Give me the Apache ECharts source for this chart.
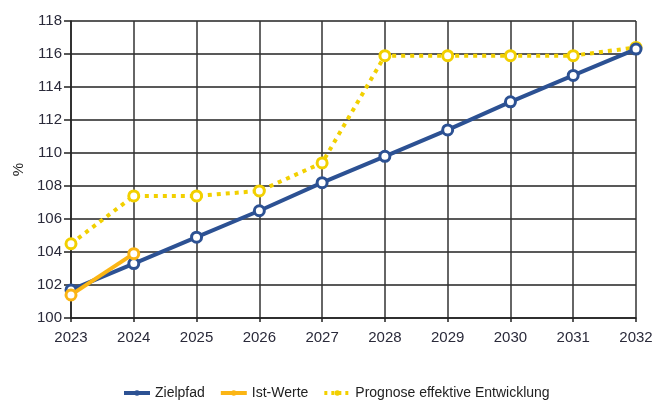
<!DOCTYPE html>
<html>
<head>
<meta charset="utf-8">
<script src="https://cdn.jsdelivr.net/npm/echarts@6/dist/echarts.min.js"></script>
<style>
html, body { margin: 0; padding: 0; background: #fff; }
#chart { width: 663px; height: 401px; }
</style>
</head>
<body>
<div id="chart"></div>
<script>
var years = ['2023', '2024', '2025', '2026', '2027', '2028', '2029', '2030', '2031', '2032'];
var zielpfad = [101.7, 103.3, 104.9, 106.5, 108.2, 109.8, 111.4, 113.1, 114.7, 116.3];
var istWerte = [101.4, 103.9];
var prognose = [104.5, 107.4, 107.4, 107.7, 109.4, 115.9, 115.9, 115.9, 115.9, 116.4];

var blue = '#2c5193';
var orange = '#fbb514';
var yellow = '#f2d000';
var fontName = '"Liberation Sans Narrow", "Liberation Sans", Arial, sans-serif';
var myChart = echarts.init(document.getElementById('chart'));

var option = {
    animation: false,
    textStyle: { fontFamily: fontName },
    grid: { left: 71, right: 27, top: 21, bottom: 83 },
    legend: {
        top: 381,
        left: 117,
        itemWidth: 26,
        itemHeight: 7,
        itemGap: 14,
        textStyle: { fontSize: 14, color: '#222', fontFamily: fontName },
        data: [
            { name: 'Zielpfad', itemStyle: { color: blue, borderWidth: 0 }, lineStyle: { width: 4 } },
            { name: 'Ist-Werte', itemStyle: { color: orange, borderWidth: 0 }, lineStyle: { width: 4 } },
            { name: 'Prognose effektive Entwicklung', itemStyle: { color: yellow, borderWidth: 0 }, lineStyle: { width: 4, type: [3, 4] } }
        ]
    },
    xAxis: {
        type: 'category',
        data: years,
        boundaryGap: false,
        axisLine: { lineStyle: { color: '#222', width: 1.5 } },
        axisTick: { show: true, length: 4, lineStyle: { color: '#222', width: 1.5 } },
        axisLabel: { fontSize: 15, color: '#2a2a3a', margin: 12 },
        splitLine: { show: true, lineStyle: { color: '#333', width: 1.5 } }
    },
    yAxis: {
        type: 'value',
        min: 100,
        max: 118,
        interval: 2,
        name: '%',
        nameLocation: 'middle',
        nameGap: 40,
        nameRotate: 90,
        nameTextStyle: { fontSize: 15, color: '#222' },
        axisLine: { show: true, lineStyle: { color: '#222', width: 1.5 } },
        axisTick: { show: true, length: 7, lineStyle: { color: '#222', width: 1.5 } },
        axisLabel: { fontSize: 15, color: '#2a2a3a', margin: 9 },
        splitLine: { show: true, lineStyle: { color: '#222', width: 1.5 } }
    },
    series: [
        {
            name: 'Prognose effektive Entwicklung',
            type: 'line',
            data: prognose,
            symbol: 'circle',
            symbolSize: 10,
            z: 2,
            lineStyle: { color: yellow, width: 4, type: [4, 5] },
            itemStyle: { color: '#fff', borderColor: yellow, borderWidth: 3 }
        },
        {
            name: 'Zielpfad',
            type: 'line',
            data: zielpfad,
            symbol: 'circle',
            symbolSize: 10,
            z: 3,
            lineStyle: { color: blue, width: 4 },
            itemStyle: { color: '#fff', borderColor: blue, borderWidth: 3 }
        },
        {
            name: 'Ist-Werte',
            type: 'line',
            data: istWerte,
            symbol: 'circle',
            symbolSize: 10,
            z: 4,
            lineStyle: { color: orange, width: 4 },
            itemStyle: { color: '#fff', borderColor: orange, borderWidth: 3 }
        }
    ]
};

myChart.setOption(option);
</script>
</body>
</html>
